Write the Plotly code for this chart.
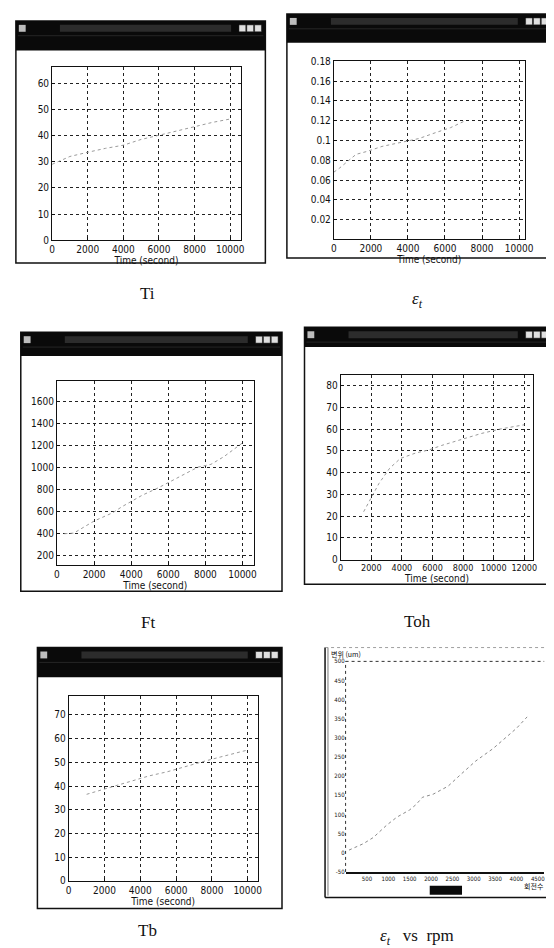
import plotly.graph_objects as go

# ---------------- data ----------------
Ti_time = [0, 1000, 2000, 3000, 4000, 5000, 6000, 7000, 8000, 9000, 10000]
Ti_vals = [29, 32, 33.6, 35.1, 36.3, 38.5, 40.1, 41.7, 43.3, 45, 46.3]

eps_time = [0, 300, 1200, 1800, 2600, 3300, 3900, 4600, 5500, 6300, 7100]
eps_vals = [0.068, 0.072, 0.086, 0.089, 0.094, 0.097, 0.099, 0.102, 0.108, 0.113, 0.12]

Ft_time = [400, 900, 2000, 2500, 3000, 3500, 4000, 4600, 5500, 6300, 7100, 7600, 8300, 9000, 10000]
Ft_vals = [400, 405, 515, 550, 590, 645, 690, 750, 820, 890, 955, 1005, 1030, 1100, 1225]

Toh_time = [1500, 2500, 3200, 3900, 4900, 5800, 6600, 7500, 8400, 9200, 10400, 11600, 12000]
Toh_vals = [22, 35, 42, 46.5, 49, 50.5, 52.5, 54.5, 56.5, 58, 60, 61.6, 62]

Tb_time = [1000, 1500, 2500, 3500, 4500, 5500, 6500, 7500, 8500, 9500, 10000]
Tb_vals = [36.5, 37.6, 40, 42, 44.3, 46, 48.3, 50.3, 52.3, 54.3, 55.2]

rpm = [80, 420, 650, 960, 1200, 1500, 1650, 1800, 2050, 2400, 2700, 3050, 3450, 3700, 4000, 4250]
disp = [7, 24, 40, 72, 93, 112, 126, 145, 153, 174, 205, 240, 272, 295, 325, 355]

time_ticks_10k = [0, 2000, 4000, 6000, 8000, 10000]
time_ticks_12k = [0, 2000, 4000, 6000, 8000, 10000, 12000]
eps_ticks = [0.02, 0.04, 0.06, 0.08, 0.1, 0.12, 0.14, 0.16, 0.18]
eps_labels = ["0.02", "0.04", "0.06", "0.08", "0.1", "0.12", "0.14", "0.16", "0.18"]
rpm_ticks = [0, 500, 1000, 1500, 2000, 2500, 3000, 3500, 4000, 4500]
disp_ticks = [-50, 0, 50, 100, 150, 200, 250, 300, 350, 400, 450, 500]

captions = ["Ti", "<i>ε<sub>t</sub></i>", "Ft", "Toh", "Tb", "<i>ε<sub>t</sub></i>&nbsp;&nbsp; vs&nbsp; rpm"]

# ---------------- layout helpers ----------------
W, H = 554, 948
def px(x):
    return x / W
def py(y):
    return 1 - y / H

TICKFAM = "DejaVu Sans Condensed, Liberation Sans Narrow, Liberation Sans"
TICKFONT = dict(family=TICKFAM, size=10, color="#111")
GRIDC = "#222"

fig = go.Figure()

panels = [
    (Ti_time, Ti_vals, 42, 235, 55, 230, [0, 10600], [0, 66], time_ticks_10k, [0, 10, 20, 30, 40, 50, 60], None, 10),
    (eps_time, eps_vals, 330, 525, 49, 229, [0, 10300], [0, 0.18], time_ticks_10k, eps_ticks, eps_labels, 10),
    (Ft_time, Ft_vals, 47, 248, 372, 558, [0, 10600], [120, 1790], time_ticks_10k, [200, 400, 600, 800, 1000, 1200, 1400, 1600], None, 10),
    (Toh_time, Toh_vals, 337, 534, 366, 553, [0, 12600], [0, 85], time_ticks_12k, [0, 10, 20, 30, 40, 50, 60, 70, 80], None, 9),
    (Tb_time, Tb_vals, 59, 252, 691, 878, [0, 10550], [0, 78], time_ticks_10k, [0, 10, 20, 30, 40, 50, 60, 70], None, 10),
]

layout_axes = {}
for i, (xd, yd, x0, x1, y0, y1, xr, yr, xt, yt, ytt, fs) in enumerate(panels, start=1):
    sfx = "" if i == 1 else str(i)
    fig.add_trace(go.Scatter(x=xd, y=yd, mode="lines", xaxis="x" + sfx, yaxis="y" + sfx,
                             line=dict(color="#9a9a9a", width=1, dash="dot"), showlegend=False,
                             hoverinfo="skip"))
    layout_axes["xaxis" + sfx] = dict(
        domain=[px(x0), px(x1)], range=xr, anchor="y" + sfx, tickvals=xt,
        ticktext=[str(v) for v in xt], tickangle=0,
        showgrid=True, gridcolor=GRIDC, griddash="dot", gridwidth=1,
        showline=True, linecolor="#111", linewidth=1, mirror=True,
        ticks="inside", ticklen=3, tickcolor="#111", tickfont=dict(family=TICKFAM, size=fs, color="#111"),
        zeroline=False, fixedrange=True,
        title=dict(text="Time (second)", font=dict(family=TICKFAM, size=10, color="#111"), standoff=1),
    )
    yax = dict(
        domain=[py(y1), py(y0)], range=yr, anchor="x" + sfx, tickvals=yt,
        ticktext=ytt if ytt is not None else [str(v) for v in yt],
        showgrid=True, gridcolor=GRIDC, griddash="dot", gridwidth=1,
        showline=True, linecolor="#111", linewidth=1, mirror=True,
        ticks="inside", ticklen=3, tickcolor="#111", tickfont=TICKFONT,
        zeroline=False, fixedrange=True,
    )
    layout_axes["yaxis" + sfx] = yax

# panel 6: displacement vs rpm
fig.add_trace(go.Scatter(x=rpm, y=disp, mode="lines", xaxis="x6", yaxis="y6",
                         line=dict(color="#8a8a8a", width=1, dash="dot"), showlegend=False,
                         hoverinfo="skip"))
SMALLFONT = dict(family="DejaVu Sans Condensed, Liberation Sans Narrow", size=6, color="#111")
layout_axes["xaxis6"] = dict(
    domain=[px(342), px(545)], range=[0, 4650], anchor="y6", tickvals=rpm_ticks[1:],
    ticktext=[str(v) for v in rpm_ticks[1:]], tickangle=0,
    showgrid=False, showline=True, linecolor="#111", linewidth=2, mirror=False,
    ticks="", tickfont=SMALLFONT, zeroline=False, fixedrange=True, ticklabelstandoff=0,
)
layout_axes["yaxis6"] = dict(
    domain=[py(869), py(656)], range=[-50, 500], anchor="x6", tickvals=disp_ticks,
    ticktext=[str(v) for v in disp_ticks],
    showgrid=False, showline=False, ticks="", tickfont=SMALLFONT, zeroline=False, fixedrange=True,
)

fig.update_layout(**layout_axes)

shapes = []
def rect(x0, y0, x1, y1, fill=None, lc="#111", lw=1.2, dash=None):
    d = dict(type="rect", xref="paper", yref="paper", x0=px(x0), x1=px(x1), y0=py(y1), y1=py(y0),
             line=dict(color=lc, width=lw))
    if dash:
        d["line"]["dash"] = dash
    if fill:
        d["fillcolor"] = fill
    shapes.append(d)

def line(x0, y0, x1, y1, lc="#111", lw=1, dash=None):
    d = dict(type="line", xref="paper", yref="paper", x0=px(x0), x1=px(x1), y0=py(y0), y1=py(y1),
             line=dict(color=lc, width=lw))
    if dash:
        d["line"]["dash"] = dash
    shapes.append(d)

windows = [(5, 8, 260, 253, 38), (282, 1, 553, 248, 30), (10, 323, 277, 585, 347),
           (300, 318, 553, 578, 338), (27, 642, 277, 906, 672)]
for (x0, y0, x1, y1, yb) in windows:
    rect(x0, y0, x1, y1, fill="rgba(0,0,0,0)", lw=1.5)
    rect(x0, y0, x1, yb, fill="#0a0a0a", lw=0)
    rect(x0 + 45, y0 + 4, x1 - 35, y0 + 11, fill="#2c2c2c", lw=0)
    rect(x0 + 3, y0 + 4, x0 + 10, y0 + 11, fill="#bdbdbd", lw=0)
    for k in range(3):
        bx = x1 - 27 + k * 8
        rect(bx, y0 + 4, bx + 7, y0 + 11, fill="#e0e0e0", lc="#111", lw=0.5)
    line(x0 + 2, y0 + 15, x1 - 2, y0 + 15, lc="#262626", lw=1)

# panel 6 frame
line(321, 642, 321, 895, lw=1.5)
line(324, 642, 324, 893, lw=0.8, lc="#555")
line(321, 895, 554, 895, lw=1.5)
line(321, 642, 554, 642, lw=0.8, lc="#888", dash="dot")
shapes.append(dict(type="line", xref="x6 domain", yref="y6 domain", x0=0, x1=0, y0=0, y1=1,
                   line=dict(color="#333", width=1, dash="dot")))
shapes.append(dict(type="line", xref="x6 domain", yref="y6 domain", x0=0, x1=1, y0=1, y1=1,
                   line=dict(color="#333", width=1, dash="dot")))
rect(428, 883, 461, 892, fill="#0a0a0a", lw=0)

fig.update_layout(shapes=shapes)

annotations = []
cap_pos = [(140, 284), (415, 290), (140, 617), (415, 616), (140, 928), (415, 935)]
for txt, (cx, cy) in zip(captions, cap_pos):
    annotations.append(dict(text=txt, x=px(cx), y=py(cy), xref="paper", yref="paper", showarrow=False,
                            font=dict(family="Liberation Serif, DejaVu Serif", size=17, color="#111"),
                            xanchor="center", yanchor="middle"))
annotations.append(dict(text="변위 (um)", x=px(325), y=py(649), xref="paper", yref="paper", showarrow=False,
                        font=dict(family="Noto Sans CJK KR", size=7, color="#111"), xanchor="left", yanchor="middle"))
annotations.append(dict(text="회전수", x=px(522), y=py(883), xref="paper", yref="paper", showarrow=False,
                        font=dict(family="Noto Sans CJK KR", size=7, color="#111"), xanchor="left", yanchor="middle"))
fig.update_layout(annotations=annotations)

fig.update_layout(width=W, height=H, margin=dict(l=0, r=0, t=0, b=0), autosize=False,
                  paper_bgcolor="white", plot_bgcolor="white", showlegend=False)

fig.write_html("out.html", config={"displayModeBar": False})
